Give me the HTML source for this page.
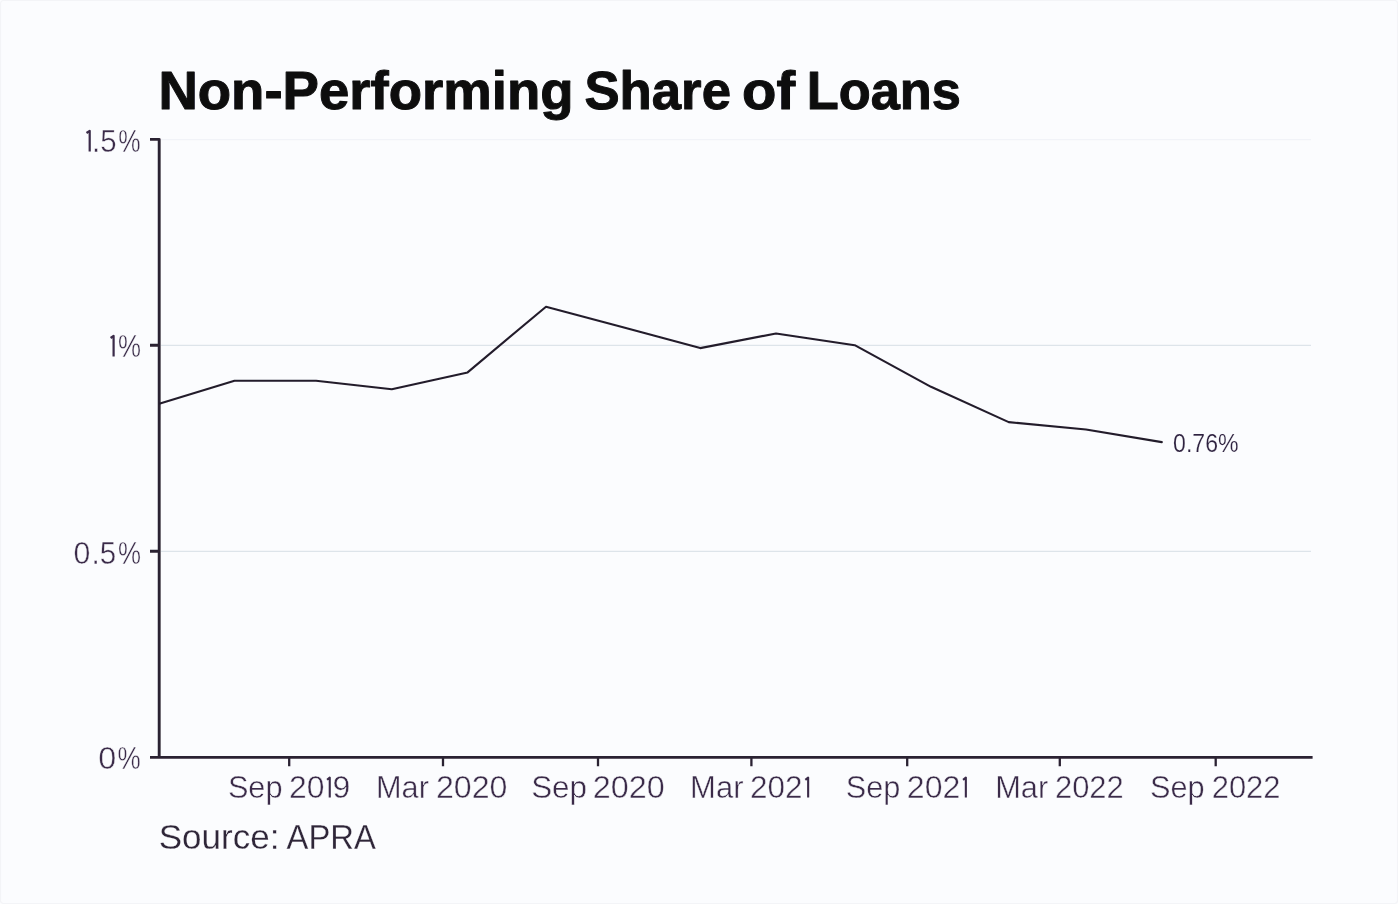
<!DOCTYPE html>
<html><head><meta charset="utf-8">
<style>
html,body{margin:0;padding:0;background:#fbfcfe;}
body{width:1398px;height:904px;overflow:hidden;font-family:"Liberation Sans",sans-serif;}
svg{display:block;}
text{font-family:"Liberation Sans",sans-serif;}
</style></head><body>
<svg width="1398" height="904" viewBox="0 0 1398 904">
<defs><filter id="bl" x="0" y="0" width="1398" height="904" filterUnits="userSpaceOnUse"><feGaussianBlur stdDeviation="0.5"/></filter></defs>
<rect width="1398" height="904" fill="#fbfcfe"/>
<g filter="url(#bl)">
<rect x="0.5" y="0.5" width="1397" height="903" rx="3" fill="none" stroke="#f3f4f7" stroke-width="1.2"/>
<g stroke="#dde4ea" stroke-width="1.2">
<line x1="161" y1="139.6" x2="1311" y2="139.6" stroke="#f1f3f8"/>
<line x1="161" y1="345.4" x2="1311" y2="345.4"/>
<line x1="161" y1="551.3" x2="1311" y2="551.3"/>
</g>
<text transform="matrix(1.0102 0 0 1 158.42 108.60)" font-size="54" font-weight="700" fill="#0a0a0c" stroke="#0a0a0c" stroke-width="1.0" stroke-linejoin="round">Non-Performing</text>
<text transform="matrix(0.9767 0 0 1 584.42 108.60)" font-size="54" font-weight="700" fill="#0a0a0c" stroke="#0a0a0c" stroke-width="1.0" stroke-linejoin="round">Share</text>
<text transform="matrix(1.0415 0 0 1 742.05 108.60)" font-size="54" font-weight="700" fill="#0a0a0c" stroke="#0a0a0c" stroke-width="1.0" stroke-linejoin="round">of</text>
<text transform="matrix(0.9698 0 0 1 806.77 108.60)" font-size="54" font-weight="700" fill="#0a0a0c" stroke="#0a0a0c" stroke-width="1.0" stroke-linejoin="round">Loans</text>
<path d="M86.50,133.00 L89.70,130.80 V151.60" fill="none" stroke="#3a2c49" stroke-width="2.2" stroke-linejoin="round" stroke-linecap="butt"/>
<text transform="matrix(0.9470 0 0 1 92.06 151.80)" font-size="31" fill="#3a2c49" stroke="#fbfcfe" stroke-width="0.45">.5</text>
<text transform="matrix(0.8109 0 0 1 118.30 151.80)" font-size="31" fill="#3a2c49" stroke="#fbfcfe" stroke-width="0.45">%</text>
<path d="M110.60,338.00 L113.60,335.80 V356.40" fill="none" stroke="#3a2c49" stroke-width="2.2" stroke-linejoin="round" stroke-linecap="butt"/>
<text transform="matrix(0.8346 0 0 1 117.97 356.60)" font-size="31" fill="#3a2c49" stroke="#fbfcfe" stroke-width="0.45">%</text>
<text transform="matrix(0.9762 0 0 1 73.56 563.60)" font-size="31" fill="#3a2c49" stroke="#fbfcfe" stroke-width="0.45">0</text>
<text transform="matrix(0.9516 0 0 1 91.55 563.60)" font-size="31" fill="#3a2c49" stroke="#fbfcfe" stroke-width="0.45">.5</text>
<text transform="matrix(0.8346 0 0 1 117.97 563.60)" font-size="31" fill="#3a2c49" stroke="#fbfcfe" stroke-width="0.45">%</text>
<text transform="matrix(1.0437 0 0 1 98.18 769.00)" font-size="31" fill="#3a2c49" stroke="#fbfcfe" stroke-width="0.45">0</text>
<text transform="matrix(0.8425 0 0 1 117.46 769.00)" font-size="31" fill="#3a2c49" stroke="#fbfcfe" stroke-width="0.45">%</text>
<text transform="matrix(0.9901 0 0 1 227.89 797.70)" font-size="31" fill="#3a2c49" stroke="#fbfcfe" stroke-width="0.45">Sep</text>
<text transform="matrix(1.0300 0 0 1 288.88 797.70)" font-size="31" fill="#3a2c49" stroke="#fbfcfe" stroke-width="0.45">20</text>
<path d="M327.05,779.80 L329.75,777.60 V797.50" fill="none" stroke="#3a2c49" stroke-width="2.1" stroke-linejoin="round" stroke-linecap="butt"/>
<text transform="matrix(1.0357 0 0 1 332.45 797.70)" font-size="31" fill="#3a2c49" stroke="#fbfcfe" stroke-width="0.45">9</text>
<text transform="matrix(0.9896 0 0 1 376.04 797.70)" font-size="31" fill="#3a2c49" stroke="#fbfcfe" stroke-width="0.45">Mar</text>
<text transform="matrix(1.0372 0 0 1 435.97 797.70)" font-size="31" fill="#3a2c49" stroke="#fbfcfe" stroke-width="0.45">2020</text>
<text transform="matrix(1.0130 0 0 1 531.16 797.70)" font-size="31" fill="#3a2c49" stroke="#fbfcfe" stroke-width="0.45">Sep</text>
<text transform="matrix(1.0448 0 0 1 592.76 797.70)" font-size="31" fill="#3a2c49" stroke="#fbfcfe" stroke-width="0.45">2020</text>
<text transform="matrix(0.9995 0 0 1 690.12 797.70)" font-size="31" fill="#3a2c49" stroke="#fbfcfe" stroke-width="0.45">Mar</text>
<text transform="matrix(1.0156 0 0 1 750.10 797.70)" font-size="31" fill="#3a2c49" stroke="#fbfcfe" stroke-width="0.45">202</text>
<path d="M805.35,779.80 L808.15,777.60 V797.50" fill="none" stroke="#3a2c49" stroke-width="2.1" stroke-linejoin="round" stroke-linecap="butt"/>
<text transform="matrix(0.9901 0 0 1 845.79 797.70)" font-size="31" fill="#3a2c49" stroke="#fbfcfe" stroke-width="0.45">Sep</text>
<text transform="matrix(1.0341 0 0 1 906.87 797.70)" font-size="31" fill="#3a2c49" stroke="#fbfcfe" stroke-width="0.45">202</text>
<path d="M963.05,779.80 L965.85,777.60 V797.50" fill="none" stroke="#3a2c49" stroke-width="2.1" stroke-linejoin="round" stroke-linecap="butt"/>
<text transform="matrix(0.9935 0 0 1 995.13 797.70)" font-size="31" fill="#3a2c49" stroke="#fbfcfe" stroke-width="0.45">Mar</text>
<text transform="matrix(0.9978 0 0 1 1054.93 797.70)" font-size="31" fill="#3a2c49" stroke="#fbfcfe" stroke-width="0.45">2022</text>
<text transform="matrix(0.9901 0 0 1 1150.09 797.70)" font-size="31" fill="#3a2c49" stroke="#fbfcfe" stroke-width="0.45">Sep</text>
<text transform="matrix(0.9978 0 0 1 1211.73 797.70)" font-size="31" fill="#3a2c49" stroke="#fbfcfe" stroke-width="0.45">2022</text>
<text transform="matrix(0.9246 0 0 1 1173.08 452.00)" font-size="25" fill="#2f2340" stroke="#fbfcfe" stroke-width="0.2">0.76%</text>
<text transform="matrix(1.0009 0 0 1 158.70 848.50)" font-size="35" fill="#2f2539" stroke="#fbfcfe" stroke-width="0.25">Source:</text>
<text transform="matrix(0.9373 0 0 1 286.59 848.50)" font-size="35" fill="#2f2539" stroke="#fbfcfe" stroke-width="0.25">APRA</text>
<g stroke="#2b2233" stroke-width="2.9" fill="none" stroke-linejoin="round">
<path d="M150,139.4 H159.2 V757.4"/>
<path d="M150,757.4 H1312.6" stroke-width="2.6"/>
<path d="M150,345.3 H159.2 M150,551.3 H159.2"/>
<path d="M289.2,757.4 V766.3 M443.0,757.4 V766.3 M598.0,757.4 V766.3 M751.4,757.4 V766.3 M907.2,757.4 V766.3 M1059.8,757.4 V766.3 M1215.7,757.4 V766.3" stroke-width="2.3"/>
</g>
<polyline fill="none" stroke="#241c2c" stroke-width="2.1" stroke-linejoin="round" stroke-linecap="round" points="160,403.6 234.5,380.7 316,380.7 391.8,389.3 467.6,372.4 546,306.7 623,327.2 700.2,348.1 776,333.5 854.7,345.2 931,386.8 1008.7,422.1 1086,429.5 1161.8,442.1"/>
</g>
</svg>
</body></html>
